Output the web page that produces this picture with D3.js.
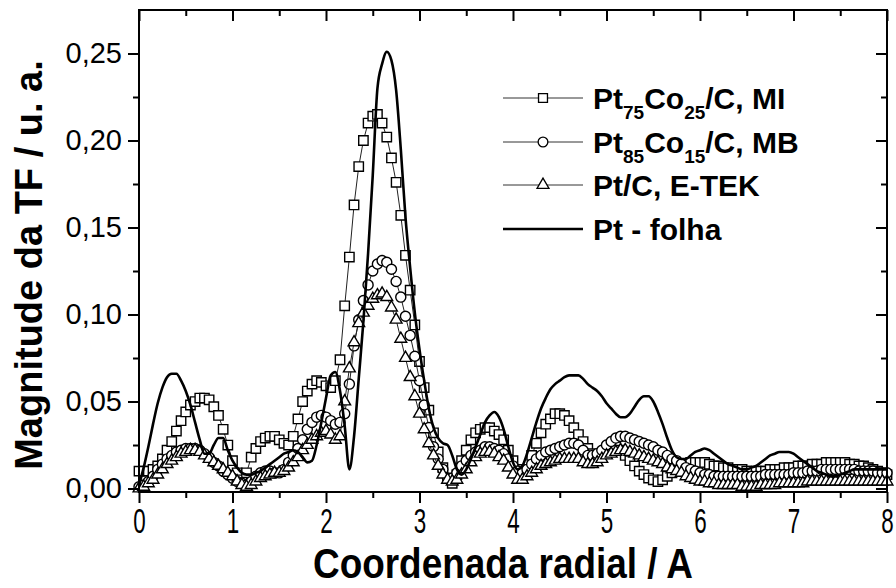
<!DOCTYPE html>
<html>
<head>
<meta charset="utf-8">
<script src="https://cdn.jsdelivr.net/npm/d3@7"></script>
<style>
body{margin:0;background:#fff;}
text{font-family:"Liberation Sans",Arial,sans-serif;fill:#000;}
</style>
</head>
<body>
<div class="canvas"></div>
<script>
var pageWidth = 896,
    pageHeight = 588;
var margins = {t:10,r:9,b:96,l:139};
var plotWidth = pageWidth - margins.l - margins.r,
    plotHeight = pageHeight - margins.t - margins.b;

// sampling step of the radial coordinate (A)
var rStep = 0.05;

// Pt75Co25/C, MI (squares)
var miValues = [
 .010,.010,.010,.011,.013,.017,.022,.027,.033,.039,
 .044,.048,.050,.052,.052,.051,.047,.042,.034,.025,
 .016,.009,.005,.009,.018,.023,.027,.029,.030,.030,
 .028,.026,.025,.030,.040,.050,.056,.060,.062,.061,
 .059,.058,.062,.074,.105,.133,.163,.185,.200,.210,
 .214,.215,.210,.202,.190,.176,.157,.134,.114,.094,
 .073,.058,.045,.032,.021,.012,.006,.003,.008,.016,
 .022,.028,.032,.034,.035,.035,.033,.031,.028,.022,
 .016,.011,.007,.011,.019,.026,.032,.037,.040,.043,
 .043,.042,.039,.035,.031,.027,.023,.020,.019,.020,
 .022,.024,.024,.022,.019,.016,.013,.010,.008,.006,
 .005,.004,.005,.007,.009,.011,.013,.014,.015,.015,
 .015,.015,.014,.013,.013,.012,.012,.011,.011,.011,
 .010,.010,.010,.010,.010,.011,.011,.011,.012,.012,
 .012,.013,.013,.013,.014,.014,.014,.015,.015,.015,
 .015,.015,.014,.014,.013,.013,.012,.011,.010,.009,
 .008];

// Pt85Co15/C, MB (circles)
var mbValues = [
 .001,.002,.004,.007,.011,.014,.017,.019,.021,.022,
 .023,.023,.023,.022,.020,.018,.015,.013,.010,.008,
 .006,.004,.003,.002,.004,.007,.009,.010,.010,.009,
 .009,.011,.015,.019,.023,.028,.034,.038,.041,.042,
 .041,.039,.037,.038,.043,.060,.082,.097,.108,.117,
 .125,.129,.131,.130,.126,.119,.110,.099,.088,.076,
 .062,.048,.035,.024,.017,.011,.006,.006,.009,.013,
 .016,.019,.021,.022,.024,.024,.023,.022,.020,.017,
 .013,.010,.009,.011,.014,.017,.019,.021,.022,.023,
 .024,.025,.026,.026,.025,.022,.019,.019,.020,.022,
 .025,.027,.029,.030,.030,.029,.028,.027,.026,.025,
 .024,.022,.021,.019,.017,.016,.014,.012,.011,.010,
 .009,.008,.008,.007,.007,.007,.007,.007,.007,.007,
 .007,.007,.007,.007,.008,.008,.008,.008,.008,.008,
 .009,.009,.009,.010,.010,.010,.011,.011,.011,.011,
 .011,.011,.011,.011,.010,.010,.010,.010,.009,.009,
 .009];

// Pt/C, E-TEK (triangles)
var etekValues = [
 .000,.001,.003,.005,.008,.011,.014,.016,.018,.020,
 .021,.022,.022,.021,.019,.017,.015,.013,.011,.009,
 .007,.004,.002,.001,.002,.004,.006,.007,.008,.009,
 .009,.010,.012,.015,.018,.022,.025,.028,.030,.032,
 .033,.031,.028,.030,.050,.069,.084,.095,.101,.105,
 .109,.111,.112,.110,.104,.097,.086,.075,.064,.053,
 .043,.034,.026,.019,.013,.008,.005,.004,.005,.008,
 .011,.015,.018,.020,.021,.021,.020,.018,.016,.012,
 .008,.005,.005,.007,.009,.011,.013,.014,.015,.016,
 .017,.017,.017,.017,.017,.015,.014,.014,.015,.017,
 .019,.020,.021,.022,.022,.021,.020,.019,.018,.017,
 .016,.015,.014,.012,.011,.010,.009,.007,.006,.005,
 .004,.004,.003,.003,.002,.002,.002,.002,.002,.001,
 .001,.001,.001,.002,.002,.002,.002,.003,.003,.003,
 .003,.003,.003,.004,.004,.004,.004,.004,.004,.004,
 .004,.004,.004,.004,.004,.004,.004,.004,.004,.004,
 .004];

// Pt - folha (solid line)
var folhaValues = [
 .002,.012,.024,.037,.049,.058,.064,.066,.066,.062,
 .056,.048,.038,.028,.020,.020,.025,.029,.029,.022,
 .016,.012,.009,.008,.008,.009,.010,.012,.014,.016,
 .018,.020,.021,.022,.021,.018,.015,.016,.025,.038,
 .052,.065,.067,.056,.036,.011,.030,.063,.096,.135,
 .180,.230,.244,.251,.246,.229,.195,.156,.127,.101,
 .080,.062,.046,.035,.029,.026,.025,.019,.011,.008,
 .011,.017,.024,.031,.038,.042,.044,.041,.034,.024,
 .015,.011,.013,.020,.029,.038,.046,.052,.057,.060,
 .062,.064,.065,.065,.065,.063,.060,.058,.056,.053,
 .049,.046,.043,.041,.041,.043,.047,.051,.053,.053,
 .050,.044,.037,.029,.022,.018,.017,.017,.019,.021,
 .022,.023,.022,.020,.018,.016,.014,.013,.012,.011,
 .011,.012,.013,.015,.017,.019,.020,.021,.021,.021,
 .020,.018,.016,.014,.012,.010,.009,.008,.007,.007,
 .008,.009,.010,.011,.011,.011,.011,.011,.011,.011,
 .011];

var xMajor = [0,1,2,3,4,5,6,7,8],
    xMinor = [0.5,1.5,2.5,3.5,4.5,5.5,6.5,7.5];
var yMajor = [0,0.05,0.10,0.15,0.20,0.25],
    yMinor = [0.025,0.075,0.125,0.175,0.225];

var legendLabels = [
    [['Pt',0],['75',1],['Co',0],['25',1],['/C, MI',0]],
    [['Pt',0],['85',1],['Co',0],['15',1],['/C, MB',0]],
    [['Pt/C, E-TEK',0]],
    [['Pt - folha',0]]
];

var svg = d3.select('.canvas')
    .append('svg')
    .attr('width',pageWidth)
    .attr('height',pageHeight);

var plot = svg.append('g')
    .attr('transform','translate('+margins.l+','+margins.t+')');

var x = d3.scaleLinear().domain([0,8]).range([0,plotWidth]);
var y = d3.scaleLinear().domain([-0.002,0.275]).range([plotHeight,0]);

function rOf(i){ return i*rStep; }

var series = [
    {values:miValues, symbol:d3.symbolSquare, size:88},
    {values:mbValues, symbol:d3.symbolCircle, size:80},
    {values:etekValues, symbol:d3.symbolTriangle, size:60}
];

var thinLine = d3.line()
    .x(function(d,i){ return x(rOf(i)); })
    .y(function(d){ return y(d); });

series.forEach(function(s){
    var g = plot.append('g').attr('class','series');
    g.append('path')
        .attr('d',thinLine(s.values))
        .attr('fill','none')
        .attr('stroke','#222')
        .attr('stroke-width',1);
    g.selectAll('path.marker')
        .data(s.values)
        .enter()
        .append('path')
        .attr('class','marker')
        .attr('d',d3.symbol().type(s.symbol).size(s.size))
        .attr('transform',function(d,i){ return 'translate('+x(rOf(i))+','+y(d)+')'; })
        .attr('fill','#fff')
        .attr('stroke','#000')
        .attr('stroke-width',1.4);
});

var folhaLine = d3.line()
    .x(function(d,i){ return x(rOf(i)); })
    .y(function(d){ return y(d); })
    .curve(d3.curveMonotoneX);

plot.append('path')
    .attr('d',folhaLine(folhaValues))
    .attr('fill','none')
    .attr('stroke','#000')
    .attr('stroke-width',2.6)
    .attr('stroke-linejoin','round');

// axes
function styleTicks(g){
    g.select('.domain').remove();
    g.selectAll('line').attr('stroke','#000').attr('stroke-width',2);
}

var fmtY = function(d){ return d3.format('.2f')(d).replace('.',','); };

plot.append('g')
    .attr('transform','translate(0,'+plotHeight+')')
    .call(d3.axisBottom(x).tickValues(xMajor).tickSize(11).tickFormat(d3.format('d')))
    .call(styleTicks)
    .call(function(g){
        g.selectAll('text')
            .attr('y',41).attr('dy',0)
            .attr('font-size',35)
            .attr('font-family','"Liberation Sans",Arial,sans-serif')
            .attr('transform','scale(0.64,1)');
    });
plot.append('g')
    .attr('transform','translate(0,'+plotHeight+')')
    .call(d3.axisBottom(x).tickValues(xMinor).tickSize(6).tickFormat(''))
    .call(styleTicks);

plot.append('g')
    .call(d3.axisLeft(y).tickValues(yMajor).tickSize(11).tickPadding(6).tickFormat(fmtY))
    .call(styleTicks)
    .call(function(g){
        g.selectAll('text')
            .attr('font-size',29)
            .attr('font-family','"Liberation Sans",Arial,sans-serif');
    });
plot.append('g')
    .call(d3.axisLeft(y).tickValues(yMinor).tickSize(6).tickFormat(''))
    .call(styleTicks);

// mirrored ticks pointing inward
plot.append('g')
    .attr('transform','translate('+plotWidth+',0)')
    .call(d3.axisRight(y).tickValues(yMajor).tickSize(-11).tickFormat(''))
    .call(styleTicks);
plot.append('g')
    .attr('transform','translate('+plotWidth+',0)')
    .call(d3.axisRight(y).tickValues(yMinor).tickSize(-6).tickFormat(''))
    .call(styleTicks);
plot.append('g')
    .call(d3.axisTop(x).tickValues(xMajor).tickSize(-11).tickFormat(''))
    .call(styleTicks);
plot.append('g')
    .call(d3.axisTop(x).tickValues(xMinor).tickSize(-6).tickFormat(''))
    .call(styleTicks);

plot.append('rect')
    .attr('width',plotWidth)
    .attr('height',plotHeight)
    .attr('fill','none')
    .attr('stroke','#000')
    .attr('stroke-width',2);

// axis titles
svg.append('text')
    .attr('transform','rotate(-90)')
    .attr('x',-265)
    .attr('y',42)
    .attr('text-anchor','middle')
    .attr('font-size',38)
    .attr('font-weight','bold')
    .text('Magnitude da TF / u. a.');

svg.append('text')
    .attr('x',503)
    .attr('y',578)
    .attr('text-anchor','middle')
    .attr('font-size',42)
    .attr('font-weight','bold')
    .attr('textLength',380)
    .attr('lengthAdjust','spacingAndGlyphs')
    .text('Coordenada radial / A');

// legend
var legend = svg.append('g').attr('class','legend');
var legendRows = [98,142,185,229];
var legendSymbols = [d3.symbolSquare,d3.symbolCircle,d3.symbolTriangle,null];
var legendSizes = [80,74,62,0];

legendRows.forEach(function(ly,i){
    legend.append('line')
        .attr('x1',503).attr('x2',583)
        .attr('y1',ly).attr('y2',ly)
        .attr('stroke',legendSymbols[i] ? '#333' : '#000')
        .attr('stroke-width',legendSymbols[i] ? 1 : 2.6);
    if(legendSymbols[i]){
        legend.append('path')
            .attr('d',d3.symbol().type(legendSymbols[i]).size(legendSizes[i]))
            .attr('transform','translate(543,'+ly+')')
            .attr('fill','#fff')
            .attr('stroke','#000')
            .attr('stroke-width',1.3);
    }
    var t = legend.append('text')
        .attr('x',593)
        .attr('y',ly+11)
        .attr('font-size',30)
        .attr('font-weight','bold');
    legendLabels[i].forEach(function(part,j){
        var prevSub = j>0 ? legendLabels[i][j-1][1] : 0;
        var shift = (part[1]-prevSub)*10;
        t.append('tspan')
            .attr('dy',shift)
            .attr('font-size',part[1] ? 19 : 30)
            .text(part[0]);
    });
});
</script>
</body>
</html>
